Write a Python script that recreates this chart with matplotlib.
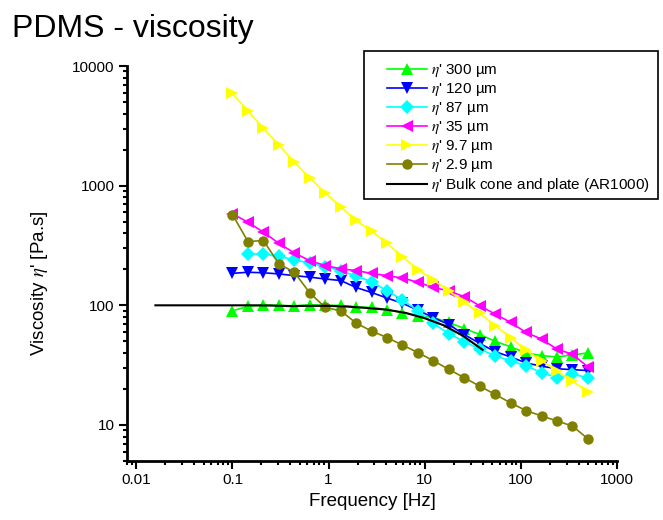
import matplotlib
matplotlib.use("Agg")
import matplotlib.pyplot as plt
from matplotlib.patches import Rectangle

plt.rcParams['font.family'] = ['Liberation Sans', 'DejaVu Sans']
plt.rcParams['mathtext.fontset'] = 'stix'

freq = [0.1, 0.145, 0.21, 0.304, 0.44, 0.637, 0.922, 1.34, 1.93, 2.8, 4.05, 5.87,
        8.5, 12.3, 17.8, 25.8, 37.4, 54.1, 78.3, 113, 164, 238, 344, 500]

eta_300 = [90, 98, 101, 100, 99, 101, 100, 100, 97, 96, 92, 87,
           82, 79, 72, 64, 57, 50, 45, 40, 38, 37, 38.5, 40]
eta_120 = [185, 189, 187, 183, 177, 172, 166, 161, 141, 128, 115, 104,
           91, 79, 69, 57, 48, 41, 37, 33, 31, 29.5, 29, 28.5]
eta_87 = [269, 269, 257, 240, 225, 211, 195, 175, 158, 132, 111,
          90, 70.5, 58, 49.8, 43, 37.9, 34.4, 31.2, 27.4, 24.9, 26.5, 24.9]
eta_35 = [582, 495, 408, 330, 274, 236, 215, 202, 195, 185, 177, 169,
          156, 141, 132, 118, 99, 84.5, 72, 59.3, 52.2, 43, 39, 30.5]
eta_9_7 = [5900, 4220, 3010, 2190, 1570, 1160, 873, 662, 512, 417, 330, 255,
           198, 163, 132, 106, 85.5, 67.5, 53.8, 42.2, 34.4, 28.2, 23.2, 19.0]
eta_2_9 = [574, 341, 348, 222, 189, 127, 96, 90, 71, 61, 53.8, 46.5,
           40.3, 34.4, 29.2, 24.8, 21.1, 18.0, 15.3, 13.2, 11.9, 10.8, 9.8, 7.65]

freq_bulk = [0.0158, 0.025, 0.04, 0.063, 0.1, 0.158, 0.25, 0.4, 0.63, 1.0,
             1.58, 2.5, 4.0, 6.3, 10, 15.8, 25, 40]
eta_bulk = [100, 100, 100, 100, 100, 100, 99.5, 98.5, 99, 99,
            97.5, 95, 92, 86.5, 78, 68, 55.6, 42.5]

labels = ["$\\eta$' 300 \u00b5m", "$\\eta$' 120 \u00b5m", "$\\eta$' 87 \u00b5m",
          "$\\eta$' 35 \u00b5m", "$\\eta$' 9.7 \u00b5m", "$\\eta$' 2.9 \u00b5m",
          "$\\eta$' Bulk cone and plate (AR1000)"]

fig = plt.figure(figsize=(6.63, 5.20), dpi=100)
ax = fig.add_axes([127/663, 1-461/520, 490/663, 395/520])

series = [
    (freq, eta_300, '#00ff00', '^', 8.5),
    (freq, eta_120, '#0000ff', 'v', 8.5),
    (freq[1:], eta_87, '#00ffff', 'D', 6.8),
    (freq, eta_35, '#ff00ff', '<', 8.5),
    (freq, eta_9_7, '#ffff00', '>', 8.5),
    (freq, eta_2_9, '#808000', 'o', 7.5),
]
handles = []
for (x, y, c, m, ms), lab in zip(series, labels):
    h, = ax.plot(x, y, color=c, marker=m, markersize=ms, lw=1.2,
                 markeredgewidth=0, label=lab)
    handles.append(h)
h, = ax.plot(freq_bulk, eta_bulk, color='black', lw=1.5, label=labels[-1])
handles.append(h)

ax.set_xscale('log')
ax.set_yscale('log')
ax.set_xlim(0.008, 1000)
ax.set_ylim(5, 10000)
ax.set_xticks([0.01, 0.1, 1, 10, 100, 1000])
ax.set_xticklabels(['0.01', '0.1', '1', '10', '100', '1000'])
ax.set_yticks([10, 100, 1000, 10000])
ax.set_yticklabels(['10', '100', '1000', '10000'])

for s in ['top', 'right']:
    ax.spines[s].set_visible(False)
for s in ['left', 'bottom']:
    ax.spines[s].set_linewidth(2)
ax.tick_params(which='major', direction='out', length=6, width=1.5,
               labelsize=11, pad=3, colors='black')
ax.tick_params(which='minor', direction='out', length=3, width=1.5)

ax.set_xlabel('Frequency [Hz]', fontsize=13.5)
ax.set_ylabel("Viscosity $\\eta$' [Pa.s]", fontsize=13.5)
ax.yaxis.set_label_coords(-0.157, 0.45)

fig.text(12/663, 1-37/520, 'PDMS - viscosity', fontsize=23, va='baseline')

fig.patches.append(Rectangle((364/663, 1-199/520), 294/663, 148/520,
                             transform=fig.transFigure, fill=False,
                             edgecolor='black', lw=1.2))
fig.legend(handles=handles, loc='upper left', bbox_to_anchor=(387/663, 1-62/520),
           frameon=False, fontsize=11, numpoints=1, handlelength=2.6,
           handletextpad=0.3, labelspacing=0.13, borderpad=0, borderaxespad=0)

fig.savefig('out.png', dpi=100)
